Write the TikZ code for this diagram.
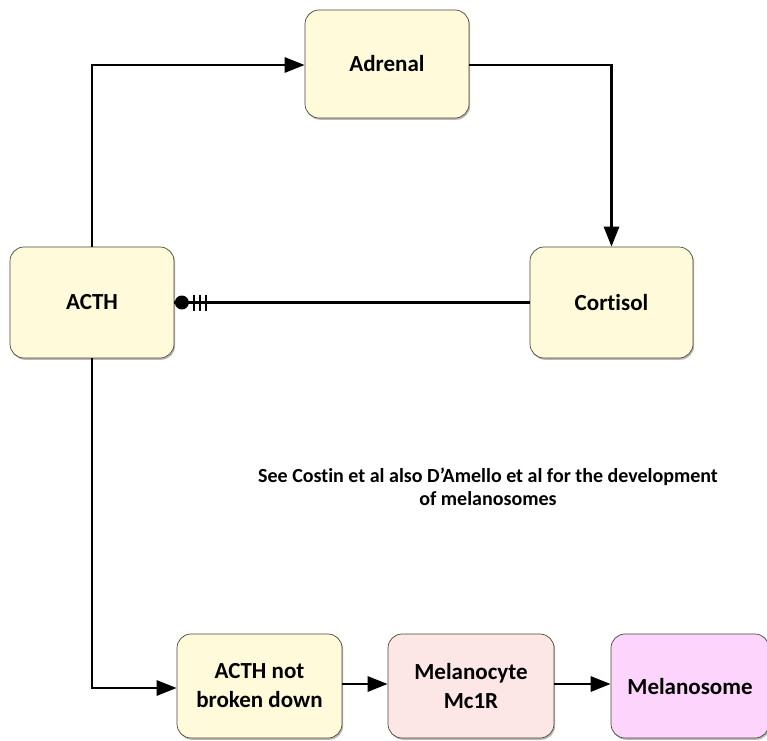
\documentclass[tikz,border=0pt]{standalone}
\usepackage{fontspec}
\setmainfont{Carlito}[Ligatures=NoCommon]
\usetikzlibrary{arrows.meta,shadows}
\definecolor{boxyellow}{HTML}{FFFBDA}
\definecolor{boxpink}{HTML}{FDE6E6}
\definecolor{boxviolet}{HTML}{FCD4FC}
\definecolor{boxedge}{HTML}{4A4636}
\begin{document}
\begin{tikzpicture}[x=1pt,y=-1pt,
  box/.style={draw=boxedge, line width=0.7pt, rounded corners=14pt,
    align=center, inner sep=0pt, font=\bfseries\fontsize{23}{29}\selectfont,
    drop shadow={shadow xshift=1.2pt, shadow yshift=-1.8pt, fill=black!45, opacity=0.6}},
  ybox/.style={box, fill=boxyellow},
  link/.style={line width=2.9pt, line cap=butt},
  flow/.style={link, -{Triangle[length=20pt,width=15pt]}},
  note/.style={align=center, font=\bfseries\fontsize{20}{22.5}\selectfont}]
  \useasboundingbox (0,0) rectangle (767,740);

  % hormone boxes
  \node[ybox, minimum width=164pt, minimum height=108pt] (adrenal) at (387,64) {Adrenal};
  \node[ybox, minimum width=164pt, minimum height=111pt] (acth) at (92,302.5) {ACTH};
  \node[ybox, minimum width=163pt, minimum height=111pt] (cortisol) at (611.5,302.5) {Cortisol};

  % pigmentation chain
  \node[ybox, minimum width=165pt, minimum height=104pt] (notbroken) at (259.5,686) {ACTH not\\broken down};
  \node[box, fill=boxpink, minimum width=166pt, minimum height=104pt] (melanocyte) at (471,686) {Melanocyte\\Mc1R};
  \node[box, fill=boxviolet, minimum width=158pt, minimum height=104pt] (melanosome) at (690,686) {Melanosome};

  \node[note] (ref) at (488,487) {See Costin et al also D’Amello et al for the development\\of melanosomes};

  % routing points
  \coordinate (c1) at (92,65);
  \coordinate (c2) at (611.5,65);
  \coordinate (c3) at (92,688);

  % feed-forward loop
  \draw[flow] (acth.north) -- (c1) -- (c1 -| adrenal.west);
  \draw[flow] (c2 -| adrenal.east) -- (c2) -- (cortisol.north);

  % cortisol feedback with circle-and-bars end
  \draw[link] (cortisol.west) -- (acth.east);
  \coordinate (fb) at (acth.east);
  \fill ([xshift=7.5pt]fb) circle (7pt);
  \foreach \dx in {19.5,25.5,31.5}
    \draw[line width=2.7pt] ([xshift=\dx pt, yshift=-8pt]fb) -- ([xshift=\dx pt, yshift=8pt]fb);

  % downstream chain
  \draw[flow] (acth.south) -- (c3) -- (c3 -| notbroken.west);
  \draw[flow] ([yshift=2pt]notbroken.east) -- ([yshift=2pt]melanocyte.west);
  \draw[flow] ([yshift=2pt]melanocyte.east) -- ([yshift=2pt]melanosome.west);
\end{tikzpicture}
\end{document}
